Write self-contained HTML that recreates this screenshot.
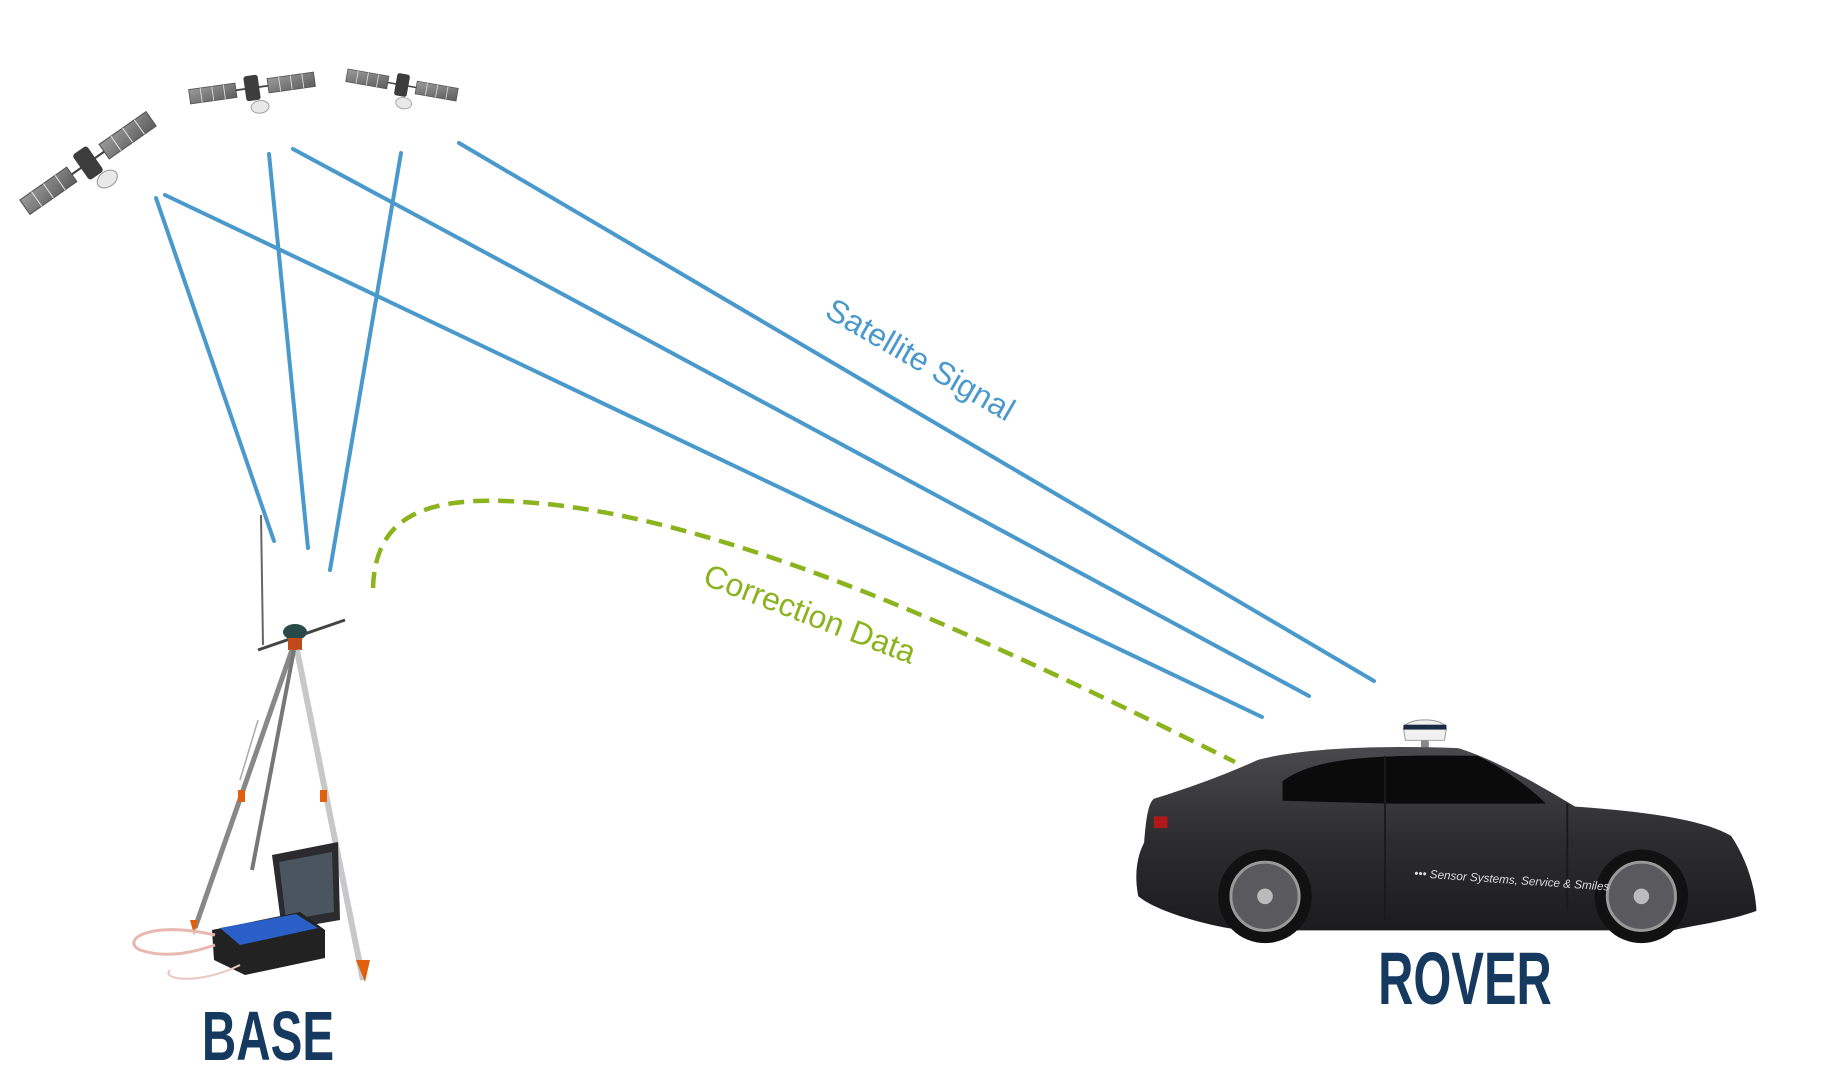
<!DOCTYPE html>
<html><head><meta charset="utf-8"><style>
html,body{margin:0;padding:0;background:#fff;width:1825px;height:1068px;overflow:hidden}
svg{display:block}
</style></head><body>
<svg width="1825" height="1068" viewBox="0 0 1825 1068" xmlns="http://www.w3.org/2000/svg">
<defs>
<linearGradient id="panel" x1="0" y1="0" x2="1" y2="1"><stop offset="0" stop-color="#9a9a9a"/><stop offset="1" stop-color="#5c5c5c"/></linearGradient>
<linearGradient id="body" x1="0" y1="0" x2="0" y2="1"><stop offset="0" stop-color="#4a4a4e"/><stop offset="0.5" stop-color="#2d2d30"/><stop offset="1" stop-color="#1c1c1e"/></linearGradient>
<g id="sat">
 <rect x="-70" y="-8" width="52" height="16" fill="url(#panel)" stroke="#555" stroke-width="1"/>
 <line x1="-57" y1="-8" x2="-57" y2="8" stroke="#ddd"/><line x1="-44" y1="-8" x2="-44" y2="8" stroke="#ddd"/><line x1="-31" y1="-8" x2="-31" y2="8" stroke="#ddd"/>
 <rect x="18" y="-8" width="52" height="16" fill="url(#panel)" stroke="#555" stroke-width="1"/>
 <line x1="31" y1="-8" x2="31" y2="8" stroke="#ddd"/><line x1="44" y1="-8" x2="44" y2="8" stroke="#ddd"/><line x1="57" y1="-8" x2="57" y2="8" stroke="#ddd"/>
 <line x1="-18" y1="0" x2="18" y2="0" stroke="#444" stroke-width="2"/>
 <rect x="-8" y="-14" width="16" height="28" rx="3" fill="#3d3d3d"/>
 <ellipse cx="6" cy="22" rx="10" ry="7" fill="#e8e8e8" stroke="#999"/>
</g>
</defs>

<g transform="translate(88,163) rotate(-35) scale(1.1)"><use href="#sat"/></g>
<g transform="translate(252,88) rotate(-8) scale(0.9)"><use href="#sat"/></g>
<g transform="translate(402,85) rotate(10) scale(0.8)"><use href="#sat"/></g>

<g stroke="#4a99cc" stroke-width="4" stroke-linecap="round" fill="none">
 <line x1="156" y1="198" x2="274" y2="541"/>
 <line x1="165" y1="195" x2="1262" y2="717"/>
 <line x1="269" y1="154" x2="308" y2="548"/>
 <line x1="293" y1="149" x2="1309" y2="696"/>
 <line x1="401" y1="153" x2="330" y2="570"/>
 <line x1="459" y1="143" x2="1374" y2="681"/>
</g>
<text transform="translate(915,369) rotate(30)" text-anchor="middle" font-family="Liberation Sans, sans-serif" font-size="32" fill="#4a99cc">Satellite Signal</text>

<path d="M373,588 C375,520 420,498 505,501 C700,508 950,620 1235,762" stroke="#8ab31e" stroke-width="4.5" fill="none" stroke-dasharray="16,9"/>
<text transform="translate(806,624) rotate(21)" text-anchor="middle" font-family="Liberation Sans, sans-serif" font-size="32" fill="#8ab31e">Correction Data</text>

<g>
 <line x1="261" y1="515" x2="263" y2="645" stroke="#666" stroke-width="2"/>
 <line x1="258" y1="650" x2="345" y2="620" stroke="#444" stroke-width="3"/>
 <ellipse cx="295" cy="632" rx="12" ry="8" fill="#2a4a4a"/>
 <rect x="288" y="638" width="14" height="12" fill="#c04a1a"/>
 <line x1="292" y1="650" x2="195" y2="928" stroke="#888" stroke-width="5"/>
 <line x1="297" y1="650" x2="363" y2="980" stroke="#c8c8c8" stroke-width="6"/>
 <line x1="294" y1="650" x2="252" y2="870" stroke="#777" stroke-width="4"/>
 <line x1="258" y1="720" x2="240" y2="780" stroke="#aaa" stroke-width="1.5"/>
 <rect x="238" y="790" width="7" height="12" fill="#e06010"/>
 <rect x="320" y="790" width="7" height="12" fill="#e06010"/>
 <polygon points="190,920 198,920 194,935" fill="#e06010"/>
 <polygon points="356,960 370,960 365,982" fill="#e06010"/>
 <polygon points="272,855 338,842 340,920 282,930" fill="#2b2b2f"/>
 <polygon points="279,862 332,852 334,912 286,920" fill="#4a5560"/>
 <polygon points="212,930 300,912 325,930 325,958 245,975 214,960" fill="#222"/>
 <polygon points="220,928 296,914 318,928 240,945" fill="#2b5fc8"/>
 <path d="M215,935 C150,920 120,940 140,950 C170,960 200,950 215,945" stroke="#e8b8b0" stroke-width="3" fill="none"/>
 <path d="M240,965 C200,985 160,980 170,970" stroke="#e8c8c0" stroke-width="2" fill="none"/>
</g>
<text x="268" y="1060" text-anchor="middle" font-family="Liberation Sans, sans-serif" font-weight="bold" font-size="70" fill="#163a5f" transform="translate(268,0) scale(0.68,1) translate(-268,0)">BASE</text>

<g transform="translate(1149,752) scale(0.975) translate(-1163,-752)">
 <rect x="1442" y="740" width="8" height="14" fill="#888"/>
 <path d="M1424,728 C1426,716 1466,716 1468,728 L1466,740 L1426,740 Z" fill="#f0f0f0" stroke="#999"/>
 <rect x="1424" y="724" width="44" height="5" fill="#1a2a40"/>
 <path d="M1168,800 C1200,790 1235,778 1275,760 C1320,748 1400,745 1480,748 C1520,760 1570,790 1600,808 C1660,812 1730,820 1760,838 C1775,860 1785,890 1786,915 C1760,925 1720,930 1700,935 L1260,935 C1220,930 1170,915 1152,900 C1148,880 1150,860 1158,845 C1160,820 1162,805 1168,800 Z" fill="url(#body)"/>
 <path d="M1300,782 C1330,760 1380,754 1500,756 C1530,770 1555,790 1570,805 L1410,805 L1300,802 Z" fill="#0b0b0c"/>
 <line x1="1405" y1="756" x2="1405" y2="925" stroke="#1a1a1a" stroke-width="2"/>
 <line x1="1592" y1="805" x2="1592" y2="915" stroke="#1a1a1a" stroke-width="2"/>
 <rect x="1168" y="818" width="14" height="12" fill="#b01818"/>
 <circle cx="1282" cy="900" r="48" fill="#111"/>
 <circle cx="1282" cy="900" r="35" fill="#5a5a5e" stroke="#999" stroke-width="3"/>
 <circle cx="1282" cy="900" r="8" fill="#bbb"/>
 <circle cx="1668" cy="900" r="48" fill="#111"/>
 <circle cx="1668" cy="900" r="35" fill="#5a5a5e" stroke="#999" stroke-width="3"/>
 <circle cx="1668" cy="900" r="8" fill="#bbb"/>
 <text x="1435" y="884" font-family="Liberation Sans, sans-serif" font-style="italic" font-size="12" fill="#ddd" transform="rotate(4 1490 880)">••• Sensor Systems, Service &amp; Smiles</text>
</g>
<text x="1465" y="1004" text-anchor="middle" font-family="Liberation Sans, sans-serif" font-weight="bold" font-size="74" fill="#163a5f" transform="translate(1465,0) scale(0.66,1) translate(-1465,0)">ROVER</text>
</svg>
</body></html>
